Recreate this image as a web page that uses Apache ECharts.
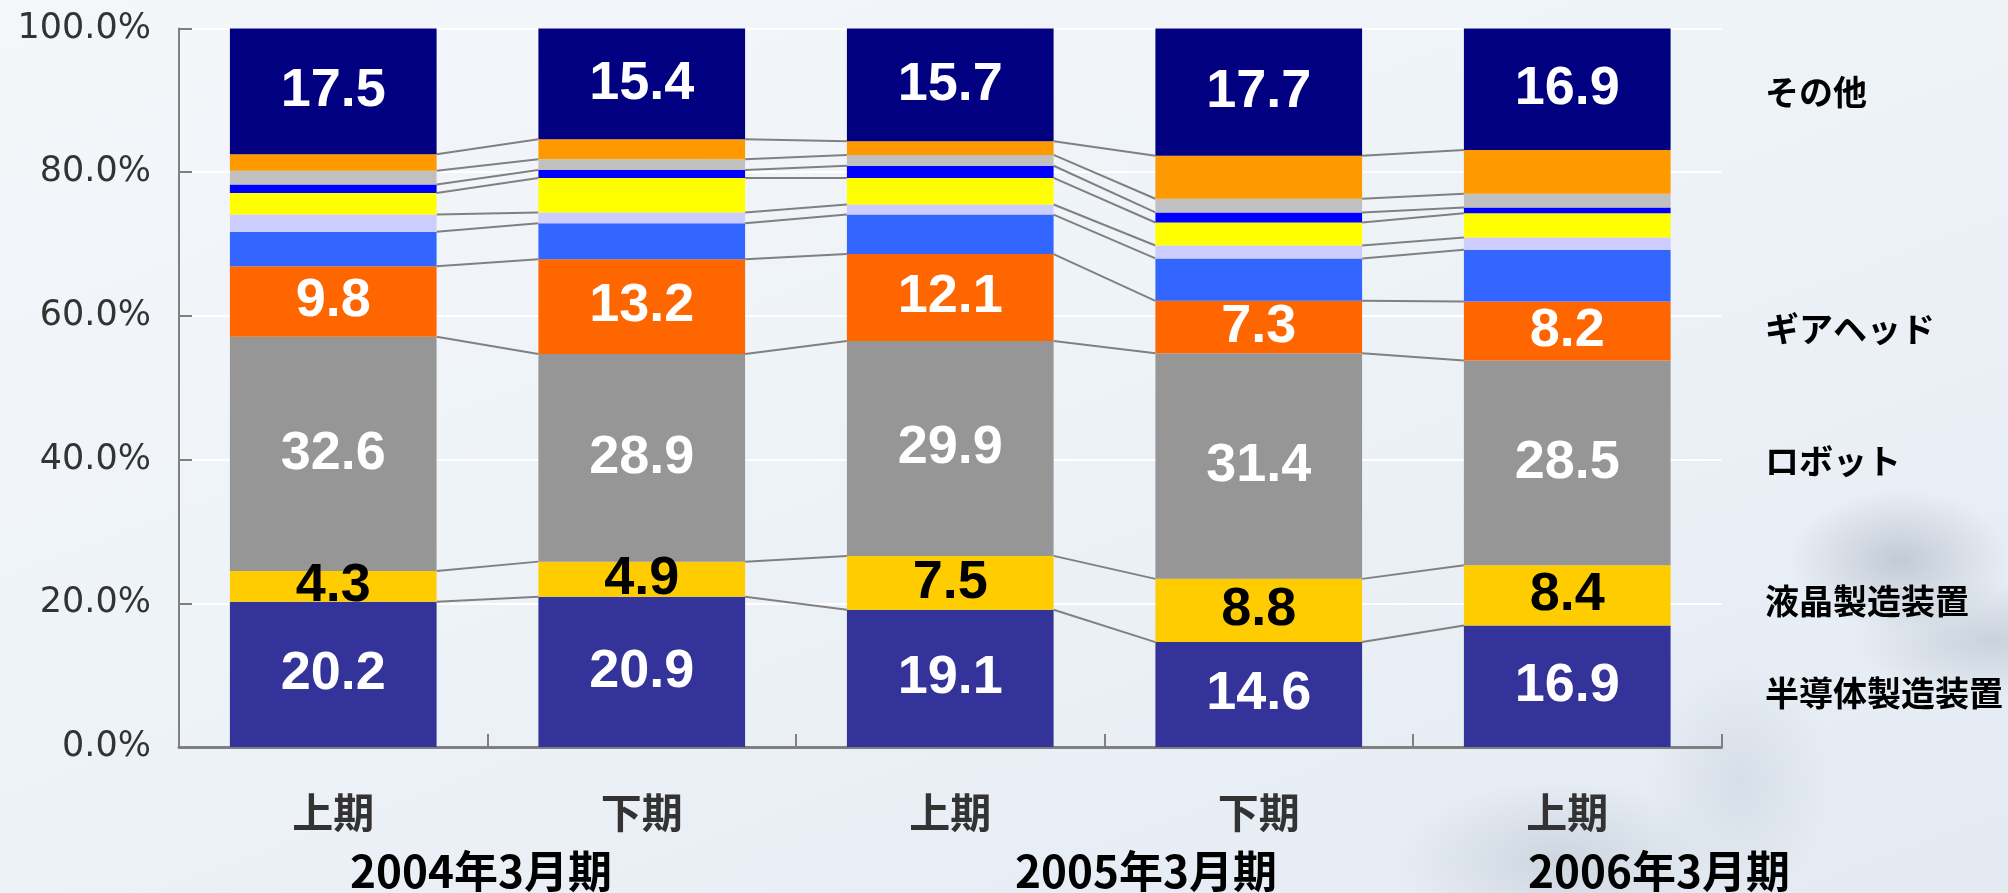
<!DOCTYPE html>
<html>
<head>
<meta charset="utf-8">
<script src="https://cdn.jsdelivr.net/npm/echarts@6/dist/echarts.min.js"></script>
<style>
  html, body { margin: 0; padding: 0; }
  #chart {
    width: 2008px; height: 893px;
    background:
      radial-gradient(ellipse 110px 70px at 1900px 560px, rgba(150,160,175,0.45), rgba(150,160,175,0) 100%),
      radial-gradient(ellipse 140px 60px at 1990px 640px, rgba(150,160,175,0.35), rgba(150,160,175,0) 100%),
      radial-gradient(ellipse 160px 80px at 1560px 860px, rgba(160,170,185,0.35), rgba(160,170,185,0) 100%),
      radial-gradient(ellipse 90px 120px at 1740px 780px, rgba(170,180,195,0.25), rgba(170,180,195,0) 100%),
      linear-gradient(160deg, #f4f7fa 0%, #eef3f8 45%, #e3eaf2 100%);
  }
</style>
</head>
<body>
<div id="chart"></div>
<script>
// ---- data ----
const categories = ['上期', '下期', '上期', '下期', '上期'];
const fiscalLabels = ['2004年3月期', '2005年3月期', '2006年3月期'];
const seriesNames = ['半導体製造装置', '液晶製造装置', 'ロボット', 'ギアヘッド', 'その他A', 'その他B', 'その他C', 'その他D', 'その他E', 'その他F', 'その他'];
const semi     = [20.2, 20.9, 19.1, 14.6, 16.9];
const lcd      = [4.3, 4.9, 7.5, 8.8, 8.4];
const robot    = [32.6, 28.9, 29.9, 31.4, 28.5];
const gear     = [9.8, 13.2, 12.1, 7.3, 8.2];
const blueA    = [4.8, 5.0, 5.5, 5.9, 7.2];
const lavender = [2.4, 1.5, 1.4, 1.8, 1.7];
const yellow   = [3.0, 4.8, 3.7, 3.2, 3.4];
const blueB    = [1.2, 1.1, 1.7, 1.4, 0.8];
const silver   = [1.9, 1.5, 1.5, 1.9, 1.9];
const orange   = [2.3, 2.8, 1.9, 6.0, 6.1];
const other    = [17.5, 15.4, 15.7, 17.7, 16.9];
const rightLabels = ['その他', 'ギアヘッド', 'ロボット', '液晶製造装置', '半導体製造装置'];

const stackData = [semi, lcd, robot, gear, blueA, lavender, yellow, blueB, silver, orange, other];
const colors = ['#333399', '#FFCC00', '#969696', '#FF6600', '#3366FF', '#CCCCFF', '#FFFF00', '#0000FF', '#C0C0C0', '#FF9900', '#000080'];
const labelColor = ['#fff', '#000', '#fff', '#fff', null, null, null, null, null, null, '#fff'];

// connector lines: cumulative tops of each segment between neighbouring bars
const connectorData = [];
for (let k = 0; k < stackData.length - 1; k++) {
  for (let i = 0; i < categories.length - 1; i++) {
    let a = 0, b = 0;
    for (let s = 0; s <= k; s++) { a += stackData[s][i]; b += stackData[s][i + 1]; }
    connectorData.push([i, +a.toFixed(2), +b.toFixed(2)]);
  }
}

const BAR_RATIO = 0.67;
const series = stackData.map((arr, idx) => ({
  name: seriesNames[idx],
  type: 'bar',
  stack: 'total',
  barWidth: (BAR_RATIO * 100) + '%',
  data: arr,
  itemStyle: { color: colors[idx] },
  z: 3,
  label: labelColor[idx] ? {
    show: true,
    position: 'inside',
    formatter: p => p.value.toFixed(1),
    fontFamily: 'Liberation Sans, Arial, sans-serif',
    fontWeight: 'bold',
    fontSize: 54,
    color: labelColor[idx],
    textBorderWidth: 0
  } : { show: false }
}));

series.push({
  type: 'custom',
  name: 'connectors',
  z: 2,
  silent: true,
  encode: { x: 0, y: [1, 2] },
  data: connectorData,
  renderItem: function (params, api) {
    const i = api.value(0);
    const p1 = api.coord([i, api.value(1)]);
    const p2 = api.coord([i + 1, api.value(2)]);
    const half = api.size([1, 0])[0] * BAR_RATIO / 2;
    return {
      type: 'line',
      shape: { x1: p1[0] + half, y1: p1[1], x2: p2[0] - half, y2: p2[1] },
      style: { stroke: '#808080', lineWidth: 2 }
    };
  }
});

const chart = echarts.init(document.getElementById('chart'), null, { renderer: 'canvas' });

const rightY = [92, 329, 461, 601, 693];
const fiscalX = [481, 1146, 1659];

const graphics = [];
rightLabels.forEach((t, i) => {
  graphics.push({
    type: 'text', left: 1765, top: rightY[i] - 17,
    style: { text: t, fontFamily: 'Noto Sans CJK JP', fontWeight: 'bold', fontSize: 34, fill: '#000' }
  });
});
fiscalLabels.forEach((t, i) => {
  graphics.push({
    type: 'text', x: fiscalX[i], y: 871,
    style: { text: t, fontFamily: 'Noto Sans CJK JP', fontWeight: 'bold', fontSize: 44, fill: '#000', align: 'center', verticalAlign: 'middle' }
  });
});

chart.setOption({
  backgroundColor: 'transparent',
  animation: false,
  grid: { left: 179, right: 286.5, top: 28.5, bottom: 146, containLabel: false },
  xAxis: {
    type: 'category',
    data: categories,
    axisLine: { lineStyle: { color: '#808080', width: 3 } },
    axisTick: { show: true, inside: true, length: 13, alignWithLabel: false, lineStyle: { color: '#808080', width: 2 } },
    axisLabel: {
      margin: 45,
      fontFamily: 'Noto Sans CJK JP',
      fontWeight: 'bold',
      fontSize: 41,
      color: '#333333'
    },
    splitLine: { show: false }
  },
  yAxis: {
    type: 'value',
    min: 0, max: 100, interval: 20,
    axisLine: { show: true, lineStyle: { color: '#808080', width: 2 } },
    axisTick: { show: true, inside: true, length: 13, lineStyle: { color: '#808080', width: 2 } },
    axisLabel: {
      margin: 28,
      formatter: v => v.toFixed(1) + '%',
      fontFamily: 'DejaVu Sans',
      fontSize: 35,
      color: '#333333'
    },
    splitLine: { show: true, lineStyle: { color: '#ffffff', width: 2 } }
  },
  graphic: graphics,
  series: series
});
</script>
</body>
</html>
